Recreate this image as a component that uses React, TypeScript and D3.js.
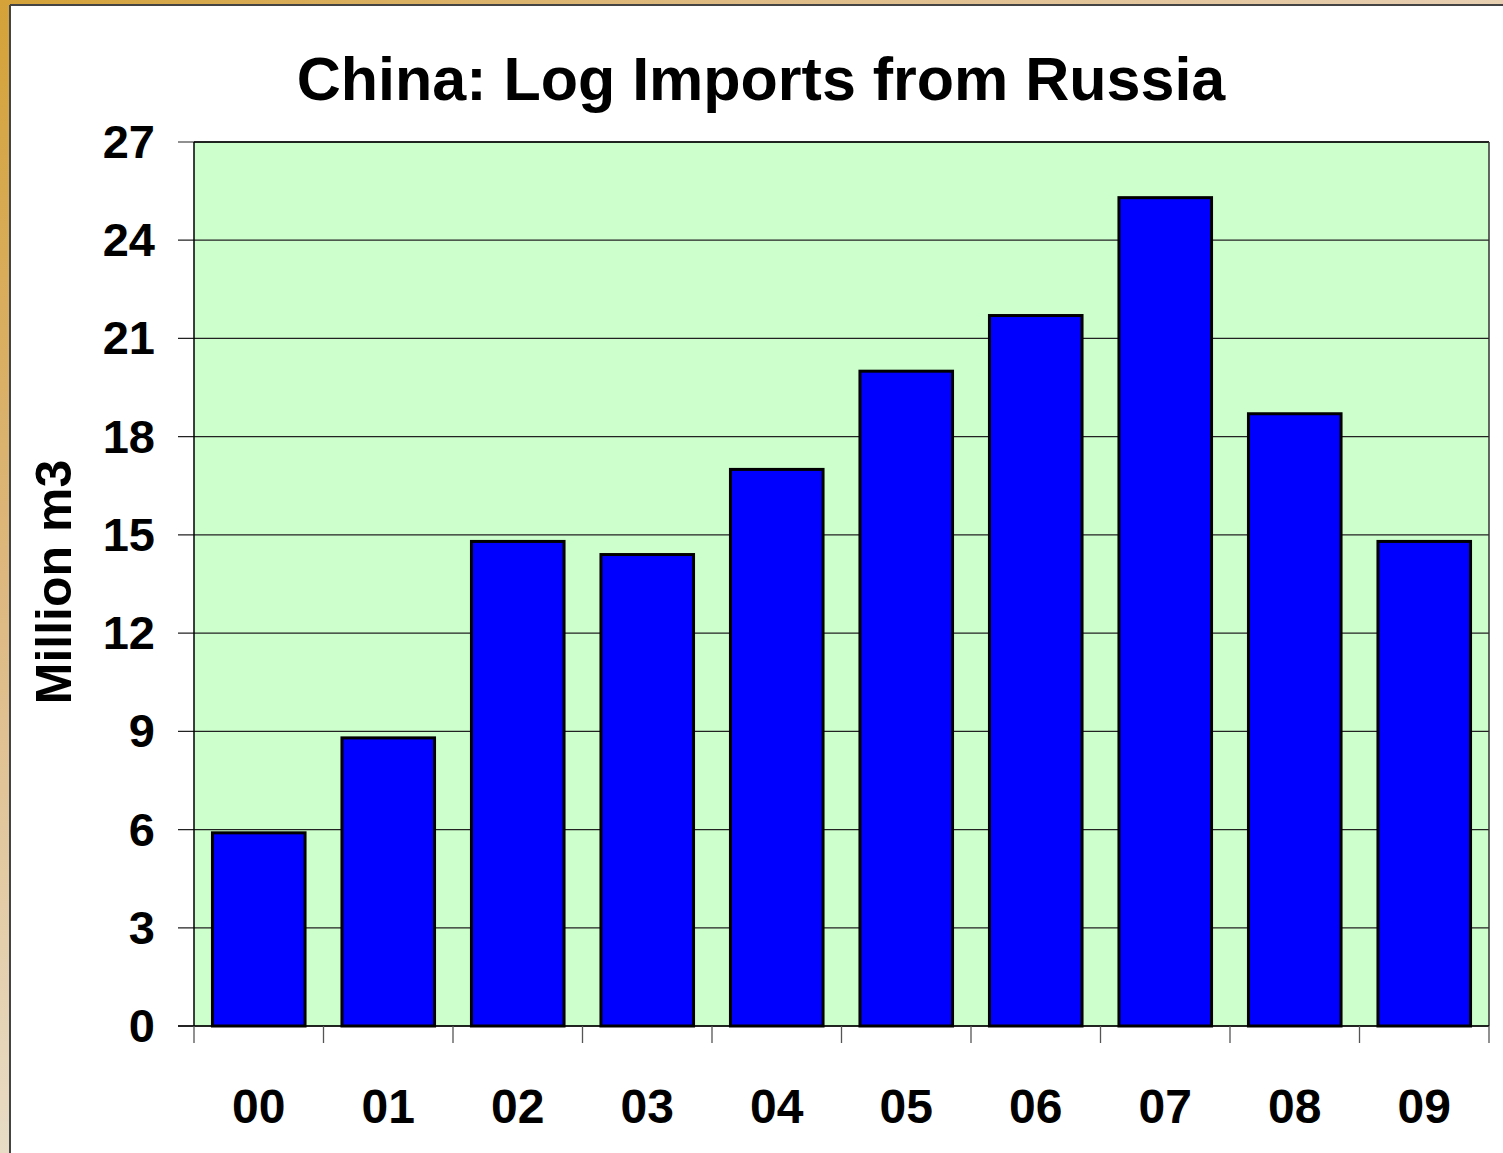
import React from "react";
import * as d3 from "d3";

const categories = ["00", "01", "02", "03", "04", "05", "06", "07", "08", "09"];
const values = [5.9, 8.8, 14.8, 14.4, 17.0, 20.0, 21.7, 25.3, 18.7, 14.8];
const yTicks = [0, 3, 6, 9, 12, 15, 18, 21, 24, 27];
const title = "China: Log Imports from Russia";
const yLabel = "Million m3";

const W = 1503;
const H = 1153;
const plot = { left: 194, right: 1489, top: 142, bottom: 1026 };
const FONT = "'Liberation Sans', Arial, Helvetica, sans-serif";

export default function App() {
  const x = d3
    .scaleBand<string>()
    .domain(categories)
    .range([plot.left, plot.right])
    .paddingInner(0.285)
    .paddingOuter(0.1425);
  const y = d3.scaleLinear().domain([0, 27]).range([plot.bottom, plot.top]);
  const step = x.step();
  const boundaries = d3.range(categories.length + 1).map((i) => plot.left + i * step);

  return (
    <svg
      width={W}
      height={H}
      style={{ position: "absolute", left: 0, top: 0, display: "block", background: "#fff" }}
    >
      <defs>
        <linearGradient id="leftBand" x1="0" y1="0" x2="0" y2="1">
          <stop offset="0" stopColor="#D4A238" />
          <stop offset="0.5" stopColor="#DDB77E" />
          <stop offset="1" stopColor="#E8DCC6" />
        </linearGradient>
        <linearGradient id="topBand" x1="0" y1="0" x2="1" y2="0">
          <stop offset="0" stopColor="#D4A238" />
          <stop offset="0.5" stopColor="#DFBC86" />
          <stop offset="1" stopColor="#E7CFB2" />
        </linearGradient>
      </defs>
      <rect x={0} y={0} width={W} height={H} fill="#fff" />
      {/* frame bands */}
      <rect x={0} y={0} width={W} height={5} fill="url(#topBand)" />
      <rect x={0} y={0} width={9} height={H} fill="url(#leftBand)" />
      <line x1={10} y1={5} x2={W} y2={5} stroke="#444" strokeWidth={2} />
      <line x1={10} y1={5} x2={10} y2={H} stroke="#444" strokeWidth={2} />

      {/* title */}
      <text
        x={761}
        y={100}
        textAnchor="middle"
        fontFamily={FONT}
        fontWeight="bold"
        fontSize={61}
        fill="#000"
      >
        {title}
      </text>

      {/* plot background */}
      <rect
        x={plot.left}
        y={plot.top}
        width={plot.right - plot.left}
        height={plot.bottom - plot.top}
        fill="#CCFFCC"
      />

      {/* gridlines */}
      {yTicks.map((t) => (
        <line
          key={"g" + t}
          x1={plot.left - 16}
          x2={plot.right}
          y1={y(t)}
          y2={y(t)}
          stroke="#222"
          strokeWidth={1.2}
        />
      ))}

      {/* plot frame */}
      <line x1={plot.left} x2={plot.right} y1={plot.top} y2={plot.top} stroke="#000" strokeWidth={1.5} />
      <line x1={plot.right} x2={plot.right} y1={plot.top} y2={plot.bottom} stroke="#333" strokeWidth={1.5} />
      <line x1={plot.left} x2={plot.left} y1={plot.top} y2={plot.bottom} stroke="#000" strokeWidth={1.5} />

      {/* bars */}
      {values.map((v, i) => (
        <rect
          key={"b" + i}
          x={x(categories[i])!}
          y={y(v)}
          width={x.bandwidth()}
          height={y(0) - y(v)}
          fill="#0000FF"
          stroke="#000"
          strokeWidth={3}
        />
      ))}

      {/* x axis */}
      <line x1={plot.left - 16} x2={plot.right} y1={plot.bottom} y2={plot.bottom} stroke="#000" strokeWidth={1.5} />
      {boundaries.map((bx, i) => (
        <line
          key={"xt" + i}
          x1={bx}
          x2={bx}
          y1={plot.bottom}
          y2={plot.bottom + 17}
          stroke="#555"
          strokeWidth={1.3}
        />
      ))}
      {categories.map((c) => (
        <text
          key={"xl" + c}
          x={x(c)! + x.bandwidth() / 2}
          y={1123}
          textAnchor="middle"
          fontFamily={FONT}
          fontWeight="bold"
          fontSize={48}
          fill="#000"
        >
          {c}
        </text>
      ))}

      {/* y axis labels */}
      {yTicks.map((t) => (
        <text
          key={"yl" + t}
          x={155}
          y={y(t) + 16}
          textAnchor="end"
          fontFamily={FONT}
          fontWeight="bold"
          fontSize={47}
          fill="#000"
        >
          {t}
        </text>
      ))}

      <text
        transform={`translate(71, 582) rotate(-90)`}
        textAnchor="middle"
        fontFamily={FONT}
        fontWeight="bold"
        fontSize={50}
        fill="#000"
      >
        {yLabel}
      </text>
    </svg>
  );
}
